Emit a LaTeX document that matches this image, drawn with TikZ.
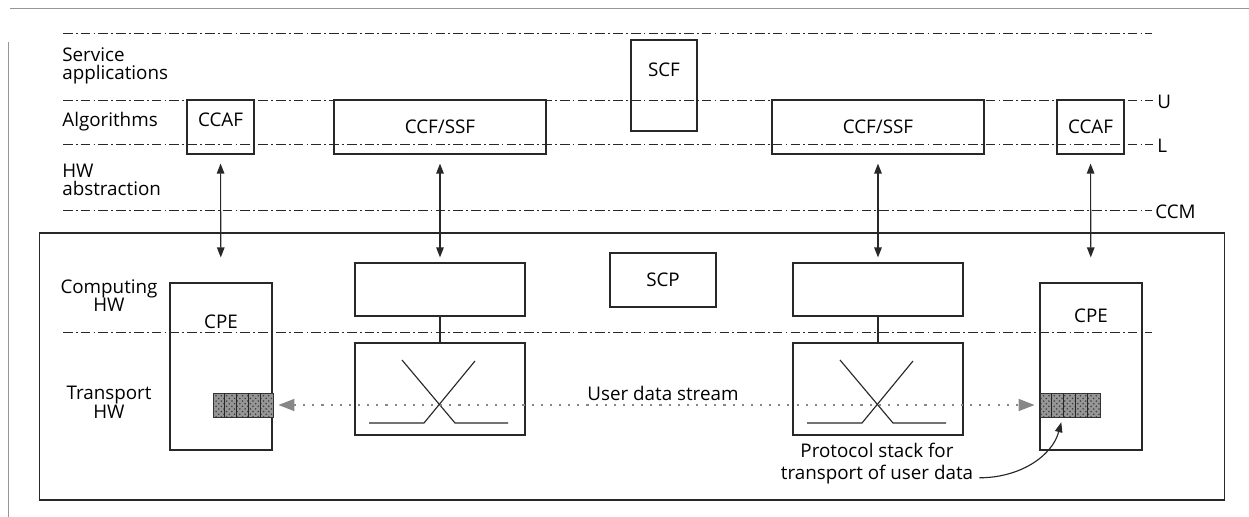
\documentclass[tikz,border=0pt]{standalone}
\usepackage{fontspec}
\setmainfont{Open Sans}
\usetikzlibrary{arrows.meta,patterns}
\definecolor{ruleline}{RGB}{40,40,40}
\definecolor{pagegray}{RGB}{150,150,150}
\definecolor{streamgray}{RGB}{135,135,135}
\definecolor{stackgray}{RGB}{115,115,115}

\begin{document}
\begin{tikzpicture}[x=0.02cm,y=-0.02cm,
  font=\fontsize{10.7}{10.5}\selectfont,
  ptip/.tip={Triangle[length=0.2cm,width=0.15cm]},
  stip/.tip={Triangle[length=0.32cm,width=0.24cm]},
  box/.style={draw=ruleline,line width=0.65pt,inner sep=0pt},
  link/.style={draw=ruleline,line width=0.65pt},
  layer/.style={draw=ruleline,line width=0.55pt,dash pattern=on 5.5pt off 1.8pt on 1pt off 1.8pt},
  lbl/.style={inner sep=0pt},
  dbl/.style={link,ptip-ptip},
  stream/.style={draw=streamgray,line width=0.9pt,dash pattern=on 1.2pt off 4pt,stip-stip},
  stack/.style={draw=black!80,line width=0.5pt,inner sep=0pt,minimum width=1.2cm,minimum height=0.48cm,
    preaction={fill=stackgray!75},pattern=crosshatch dots,pattern color=black!75}]

  \useasboundingbox (0,0) rectangle (1249,517);

  % page frame
  \draw[pagegray,line width=0.4pt] (10,8) -- (1249,8);
  \draw[pagegray,line width=0.4pt] (8,42) -- (8,517);

  % layer boundaries
  \draw[layer] (63,33) -- (1152,33);
  \draw[layer] (63,100) -- (1153,100);
  \draw[layer] (63,144) -- (1153,144);
  \draw[layer] (63,210) -- (1152,210);
  \draw[layer] (63,332) -- (1152,332);
  \node[lbl,anchor=west] (uline) at (1157,102) {U};
  \node[lbl,anchor=west] (lline) at (1157,146) {L};
  \node[lbl,anchor=west] (ccm) at (1155,212) {CCM};

  \node[lbl,anchor=west,align=left] (svc) at (62,66) {Service\\applications};
  \node[lbl,anchor=west] (alg) at (62,122) {Algorithms};
  \node[lbl,anchor=west,align=left] (hwabs) at (62,180) {HW\\abstraction};
  \node[lbl,align=center] (comphw) at (109,295.5) {Computing\\HW};
  \node[lbl,align=center] (transhw) at (109,402.5) {Transport\\HW};

  % functions
  \node[box,minimum width=1.34cm,minimum height=1.08cm,text depth=0.28cm] (ccafL) at (220.5,127) {CCAF};
  \node[box,minimum width=4.24cm,minimum height=1.08cm] (ccfL) at (440,127) {CCF/SSF};
  \node[box,minimum width=1.32cm,minimum height=1.82cm,text depth=0.62cm] (scf) at (664,85.5) {SCF};
  \node[box,minimum width=4.24cm,minimum height=1.08cm] (ccfR) at (878,127) {CCF/SSF};
  \node[box,minimum width=1.34cm,minimum height=1.08cm] (ccafR) at (1090.5,127) {CCAF};

  % hardware
  \node[box,minimum width=23.72cm,minimum height=5.34cm] (hw) at (632,366.5) {};
  \node[box,minimum width=2.04cm,minimum height=3.34cm,text depth=1.78cm] (cpeL) at (221,366.5) {CPE};
  \node[box,minimum width=3.4cm,minimum height=1.06cm] (compL) at (440,289.5) {};
  \node[box,minimum width=3.4cm,minimum height=1.84cm] (swL) at (440,389) {};
  \node[box,minimum width=2.12cm,minimum height=1.08cm] (scp) at (663,280) {SCP};
  \node[box,minimum width=3.4cm,minimum height=1.06cm] (compR) at (878,289.5) {};
  \node[box,minimum width=3.4cm,minimum height=1.84cm] (swR) at (878,389) {};
  \node[box,minimum width=2.04cm,minimum height=3.34cm,text depth=2.04cm] (cpeR) at (1091,366.5) {CPE};

  \node[stack] (bufL) at (243,405) {};
  \node[stack] (bufR) at (1070,405) {};
  \foreach \s in {bufL,bufR}
    \foreach \k in {1,...,4}
      \draw[black!85,line width=0.6pt] ([xshift=\k*0.24cm]\s.south west) -- ([xshift=\k*0.24cm]\s.north west);

  \foreach \s in {swL,swR} {
    \draw[link] ([shift={(-38,-29)}]\s.center) -- ([shift={(15,34)}]\s.center) -- ([shift={(68,34)}]\s.center);
    \draw[link] ([shift={(35,-28)}]\s.center) -- ([shift={(-16,34)}]\s.center) -- ([shift={(-71,34)}]\s.center);
  }
  \draw[link] (compL) -- (swL);
  \draw[link] (compR) -- (swR);

  \draw[dbl,shorten <=0.18cm,shorten >=0.5cm] (ccafL) -- (cpeL);
  \draw[dbl,shorten <=0.18cm,shorten >=0.1cm] (ccfL) -- (compL);
  \draw[dbl,shorten <=0.18cm,shorten >=0.1cm] (ccfR) -- (compR);
  \draw[dbl,shorten <=0.18cm,shorten >=0.5cm] (ccafR) -- (cpeR);

  \draw[stream,shorten <=0.1cm,shorten >=0.1cm] (bufL) -- (bufR);
  \node[lbl] (udata) at (663,393) {User data stream};

  \node[lbl,align=center,font=\fontsize{10.7}{12.5}\selectfont] (note) at (877,464) {Protocol stack for\\transport of user data};
  \draw[link,-ptip,shorten >=0.1cm] ([xshift=0.12cm,yshift=0.14cm]note.south east)
    to[out=0,in=-105] ([xshift=0.46cm]bufR.south west);
\end{tikzpicture}
\end{document}
